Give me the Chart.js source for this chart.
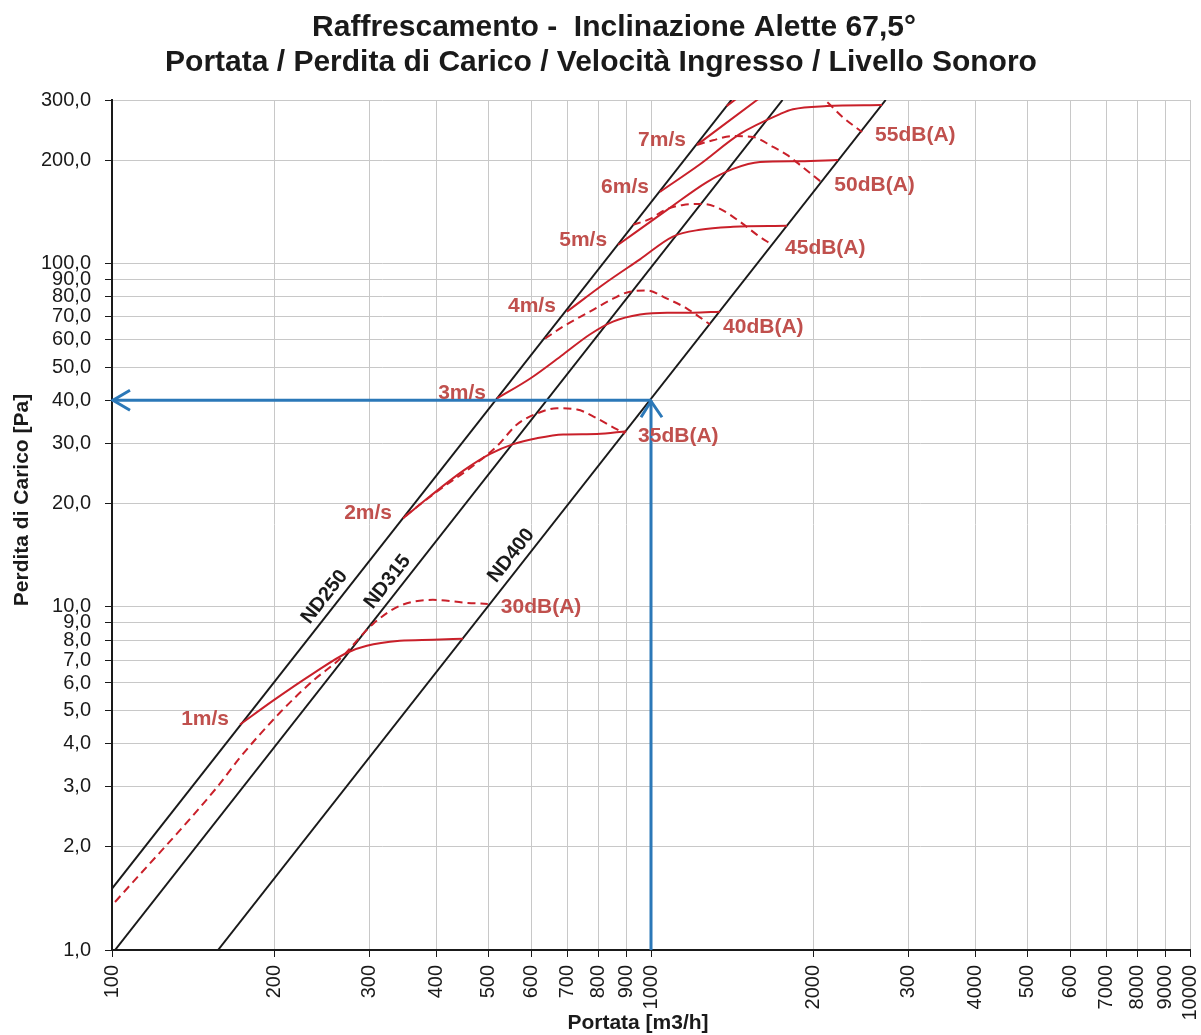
<!DOCTYPE html>
<html>
<head>
<meta charset="utf-8">
<script src="https://cdn.jsdelivr.net/npm/chart.js@4.4.1/dist/chart.umd.min.js"></script>
<style>
body { margin: 0; background: #fff; }
canvas { display: block; }
</style>
</head>
<body>
<canvas id="chart" width="1201" height="1035"></canvas>
<script>
const FONT = '"Liberation Sans", Arial, sans-serif';

// Tick values and labels (as printed on the original)
const xTicks = [100, 200, 300, 400, 500, 600, 700, 800, 900, 1000, 2000, 3000, 4000, 5000, 6000, 7000, 8000, 9000, 10000];
const xTickLabels = ['100', '200', '300', '400', '500', '600', '700', '800', '900', '1000', '2000', '300', '4000', '500', '600', '7000', '8000', '9000', '10000'];
const yTicks = [1, 2, 3, 4, 5, 6, 7, 8, 9, 10, 20, 30, 40, 50, 60, 70, 80, 90, 100, 200, 300];
const yTickLabels = ['1,0', '2,0', '3,0', '4,0', '5,0', '6,0', '7,0', '8,0', '9,0', '10,0', '20,0', '30,0', '40,0', '50,0', '60,0', '70,0', '80,0', '90,0', '100,0', '200,0', '300,0'];

// Duct lines [flow m3/h, pressure Pa]
const nd250 = [[100, 1.51], [1410, 300]];
const nd315 = [[101.3, 1], [1754, 300]];
const nd400 = [[157.3, 1], [2725, 300]];
const ductNames = ['ND250', 'ND315', 'ND400'];
const ductLabelFlow = [259, 339, 575];

// Inlet velocity curves
const vel1 = [[172.8, 4.54], [199, 5.33], [236, 6.39], [273, 7.35], [297, 7.70], [342, 7.96], [394, 8.02], [448, 8.07]];
const vel2 = [[346.7, 18.1], [389, 21.0], [448, 24.9], [503, 27.9], [555, 29.8], [614, 31.0], [687, 31.8], [794, 31.9], [900, 32.5]];
const vel3 = [[518, 40.5], [597, 46.3], [687, 54.4], [770, 62.2], [850, 67.8], [954, 71.1], [1071, 72.0], [1197, 72.0], [1343, 72.5]];
const vel4 = [[698, 72.5], [829, 88.6], [954, 103], [1098, 120], [1233, 125.6], [1420, 128.1], [1788, 129]];
const vel5 = [[869, 113.6], [1071, 143.5], [1270, 173], [1420, 189], [1593, 198], [1890, 199], [2223, 200.6]];
const vel6 = [[1039, 162], [1233, 195], [1463, 239], [1735, 273], [1834, 282], [2121, 288], [2683, 290]];
const vel7 = [[1217, 222], [1573, 300], [1800, 350]];
const vel8 = [[1381, 288], [1551, 330]];
const velLabels = ['1m/s', '2m/s', '3m/s', '4m/s', '5m/s', '6m/s', '7m/s'];

// Sound level curves
const db30 = [[101.3, 1.38], [156.6, 2.98], [172.8, 3.64], [205, 4.92], [236, 6.09], [265, 7.06], [305, 8.92], [342, 10.07], [394, 10.48], [456, 10.27], [498, 10.2]];
const db35 = [[350, 18.4], [401, 21.7], [462, 25.4], [518, 29.4], [564, 34.0], [614, 36.6], [669, 37.9], [729, 37.6], [794, 35.4], [865, 32.9], [895, 32.0]];
const db40 = [[636, 60.5], [687, 65.6], [770, 72.5], [850, 79.1], [914, 82.9], [983, 83.5], [1071, 79.1], [1166, 74.0], [1287, 66.5]];
const db45 = [[926, 129.8], [996, 135.1], [1062, 143.5], [1147, 148.4], [1249, 149.4], [1343, 144.5], [1463, 132.5], [1573, 121.4], [1677, 113.6]];
const db50 = [[1217, 222], [1303, 229], [1420, 235.5], [1546, 234], [1684, 219], [1788, 207.5], [1890, 194], [2070, 173]];
const db55 = [[1950, 330], [2121, 296], [2271, 267], [2464, 242]];
const dbLabels = ['30dB(A)', '35dB(A)', '40dB(A)', '45dB(A)', '50dB(A)', '55dB(A)'];

// Reading example (blue arrows)
const readFlow = 1000;
const readLoss = 40;

const RED = '#c9202a';
const RED_TEXT = '#c0504d';
const BLUE = '#2b78b8';

const pts = arr => arr.map(p => ({ x: p[0], y: p[1] }));

const velCurves = [vel1, vel2, vel3, vel4, vel5, vel6, vel7, vel8];
const dbCurves = [db30, db35, db40, db45, db50, db55];
const ducts = [nd250, nd315, nd400];

const datasets = [];
// blue arrows on top
datasets.push({ data: pts([[readFlow, 1], [readFlow, readLoss]]), borderColor: BLUE, borderWidth: 3 });
datasets.push({ data: pts([[readFlow, readLoss], [100, readLoss]]), borderColor: BLUE, borderWidth: 3 });
velCurves.forEach(c => datasets.push({ data: pts(c), borderColor: RED, borderWidth: 2, cubicInterpolationMode: 'monotone' }));
dbCurves.forEach(c => datasets.push({ data: pts(c), borderColor: RED, borderWidth: 2, borderDash: [8, 5], cubicInterpolationMode: 'monotone' }));
ducts.forEach(c => datasets.push({ data: pts(c), borderColor: '#1a1a1a', borderWidth: 2 }));

// text, arrow heads and titles
const overlay = {
  id: 'overlay',
  afterDatasetsDraw(chart) {
    const { ctx, scales: { x, y } } = chart;
    ctx.save();

    // arrow heads
    ctx.strokeStyle = BLUE;
    ctx.lineWidth = 3;
    const lx = x.getPixelForValue(100), ly = y.getPixelForValue(readLoss);
    ctx.beginPath();
    ctx.moveTo(lx + 18, ly - 10); ctx.lineTo(lx + 1, ly); ctx.lineTo(lx + 18, ly + 10);
    ctx.stroke();
    const ux = x.getPixelForValue(readFlow), uy = y.getPixelForValue(readLoss);
    ctx.beginPath();
    ctx.moveTo(ux - 10, uy + 17); ctx.lineTo(ux, uy + 1); ctx.lineTo(ux + 11, uy + 17);
    ctx.stroke();

    // velocity labels at curve starts
    ctx.fillStyle = RED_TEXT;
    ctx.font = 'bold 21px ' + FONT;
    ctx.textBaseline = 'middle';
    ctx.textAlign = 'right';
    velLabels.forEach((t, i) => {
      const p = velCurves[i][0];
      ctx.fillText(t, x.getPixelForValue(p[0]) - 11, y.getPixelForValue(p[1]) - 5);
    });
    // sound level labels at curve ends
    ctx.textAlign = 'left';
    dbLabels.forEach((t, i) => {
      const c = dbCurves[i];
      const p = c[c.length - 1];
      ctx.fillText(t, x.getPixelForValue(p[0]) + 13, y.getPixelForValue(p[1]) + 3);
    });

    // duct labels along the lines
    ctx.fillStyle = '#1a1a1a';
    ctx.font = 'bold 20px ' + FONT;
    ctx.textAlign = 'center';
    ducts.forEach((d, i) => {
      const q = ductLabelFlow[i];
      const k = Math.log(d[1][1] / d[0][1]) / Math.log(d[1][0] / d[0][0]);
      const p = d[0][1] * Math.pow(q / d[0][0], k);
      const px = x.getPixelForValue(q), py = y.getPixelForValue(p);
      const px2 = x.getPixelForValue(q * 2), py2 = y.getPixelForValue(p * Math.pow(2, k));
      const ang = Math.atan2(py2 - py, px2 - px);
      ctx.save();
      ctx.translate(px, py);
      ctx.rotate(ang);
      ctx.fillText(ductNames[i], 0, -13);
      ctx.restore();
    });
    ctx.restore();
  },
  afterDraw(chart) {
    const { ctx } = chart;
    ctx.save();
    ctx.fillStyle = '#1a1a1a';
    ctx.textAlign = 'center';
    ctx.textBaseline = 'middle';
    ctx.font = 'bold 30px ' + FONT;
    ctx.fillText('Raffrescamento -  Inclinazione Alette 67,5°', 614, 28);
    ctx.fillText('Portata / Perdita di Carico / Velocità Ingresso / Livello Sonoro', 601, 63);
    ctx.font = 'bold 21px ' + FONT;
    ctx.fillText('Portata [m3/h]', 638, 1023);
    ctx.translate(22, 500);
    ctx.rotate(-Math.PI / 2);
    ctx.fillText('Perdita di Carico [Pa]', 0, 0);
    ctx.restore();
  }
};

new Chart(document.getElementById('chart'), {
  type: 'line',
  data: { datasets },
  plugins: [overlay],
  options: {
    responsive: false,
    animation: false,
    layout: { padding: { left: 0, right: 11, top: 100, bottom: 0 } },
    elements: { point: { radius: 0 }, line: { tension: 0, fill: false } },
    plugins: { legend: { display: false }, tooltip: { enabled: false }, title: { display: false } },
    scales: {
      x: {
        type: 'logarithmic',
        min: 100,
        max: 10000,
        afterBuildTicks: s => { s.ticks = xTicks.map(v => ({ value: v })); },
        afterFit: s => { s.height = 85; s.paddingLeft = 0; s.paddingRight = 0; },
        ticks: {
          autoSkip: false,
          minRotation: 90,
          maxRotation: 90,
          padding: 8,
          color: '#1a1a1a',
          font: { family: FONT, size: 20 },
          callback: (v, i) => xTickLabels[i]
        },
        grid: { color: '#c8c8c8', tickColor: '#1a1a1a', tickLength: 7, lineWidth: 1 },
        border: { color: '#1a1a1a', width: 2 }
      },
      y: {
        type: 'logarithmic',
        min: 1,
        max: 300,
        afterBuildTicks: s => { s.ticks = yTicks.map(v => ({ value: v })); },
        afterFit: s => { s.width = 112; s.paddingTop = 0; s.paddingBottom = 0; },
        ticks: {
          autoSkip: false,
          padding: 14,
          color: '#1a1a1a',
          font: { family: FONT, size: 20 },
          callback: (v, i) => yTickLabels[i]
        },
        grid: { color: '#c8c8c8', tickColor: '#1a1a1a', tickLength: 7, lineWidth: 1 },
        border: { color: '#1a1a1a', width: 2 }
      }
    }
  }
});
</script>
</body>
</html>
